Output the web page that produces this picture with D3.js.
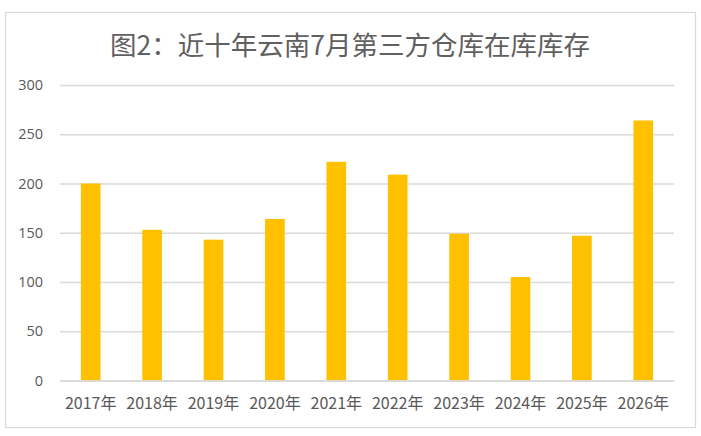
<!DOCTYPE html>
<html>
<head>
<meta charset="utf-8">
<script src="https://cdn.jsdelivr.net/npm/d3@7"></script>
<style>
  body { margin: 0; background: #fff; }
  svg { display: block; }
</style>
</head>
<body>
<div id="chart"></div>
<script>
// data
const years = ["2017年", "2018年", "2019年", "2020年", "2021年", "2022年", "2023年", "2024年", "2025年", "2026年"];
const stock = [200, 153, 143, 164, 222, 209, 149, 105, 147, 264];
const yTicks = [0, 50, 100, 150, 200, 250, 300];
const title = "图2：近十年云南7月第三方仓库在库库存";

const svgWidth = 701;
const svgHeight = 436;

const margin = { top: 85, right: 27, bottom: 55.5, left: 60 };
const width = svgWidth - margin.left - margin.right;
const height = svgHeight - margin.top - margin.bottom;

const svg = d3.select("#chart")
  .append("svg")
  .attr("width", svgWidth)
  .attr("height", svgHeight);

// chart frame
svg.append("rect")
  .attr("x", 5.5)
  .attr("y", 12.5)
  .attr("width", 690)
  .attr("height", 415)
  .attr("fill", "#fff")
  .attr("stroke", "#d9d9d9")
  .attr("stroke-width", 1.2);

svg.append("text")
  .attr("x", 350)
  .attr("y", 55)
  .attr("text-anchor", "middle")
  .attr("fill", "#606060")
  .style("font-family", "'Noto Sans CJK SC', sans-serif")
  .style("font-size", "26.5px")
  .text(title);

const chartGroup = svg.append("g")
  .attr("transform", `translate(${margin.left}, ${margin.top})`);

const xScale = d3.scaleBand()
  .domain(years)
  .range([0, width])
  .paddingInner(0.68)
  .paddingOuter(0.34);

const yScale = d3.scaleLinear()
  .domain([0, 300])
  .range([height, 0]);

// gridlines + y labels
const yAxis = d3.axisLeft(yScale)
  .tickValues(yTicks)
  .tickSize(-width)
  .tickPadding(17);

const yAxisG = chartGroup.append("g").call(yAxis);
yAxisG.select(".domain").remove();
yAxisG.selectAll(".tick line")
  .attr("stroke", "#d9d9d9")
  .attr("stroke-width", 1.3);
yAxisG.selectAll(".tick text")
  .attr("fill", "#595959")
  .style("font-family", "'Open Sans', sans-serif")
  .style("font-size", "14.5px");

// bars
chartGroup.selectAll("rect.bar")
  .data(stock)
  .enter()
  .append("rect")
  .attr("class", "bar")
  .attr("x", (d, i) => xScale(years[i]))
  .attr("y", d => yScale(d))
  .attr("width", xScale.bandwidth())
  .attr("height", d => height - yScale(d))
  .attr("fill", "#ffc000");

// x axis labels
const xAxis = d3.axisBottom(xScale)
  .tickSize(0)
  .tickPadding(17);

const xAxisG = chartGroup.append("g")
  .attr("transform", `translate(0, ${height})`)
  .call(xAxis);
xAxisG.select(".domain")
  .attr("stroke", "#d9d9d9")
  .attr("stroke-width", 1.3);
xAxisG.selectAll(".tick text")
  .attr("fill", "#595959")
  .style("font-family", "'Noto Sans CJK SC', sans-serif")
  .style("font-size", "16px");
</script>
</body>
</html>
